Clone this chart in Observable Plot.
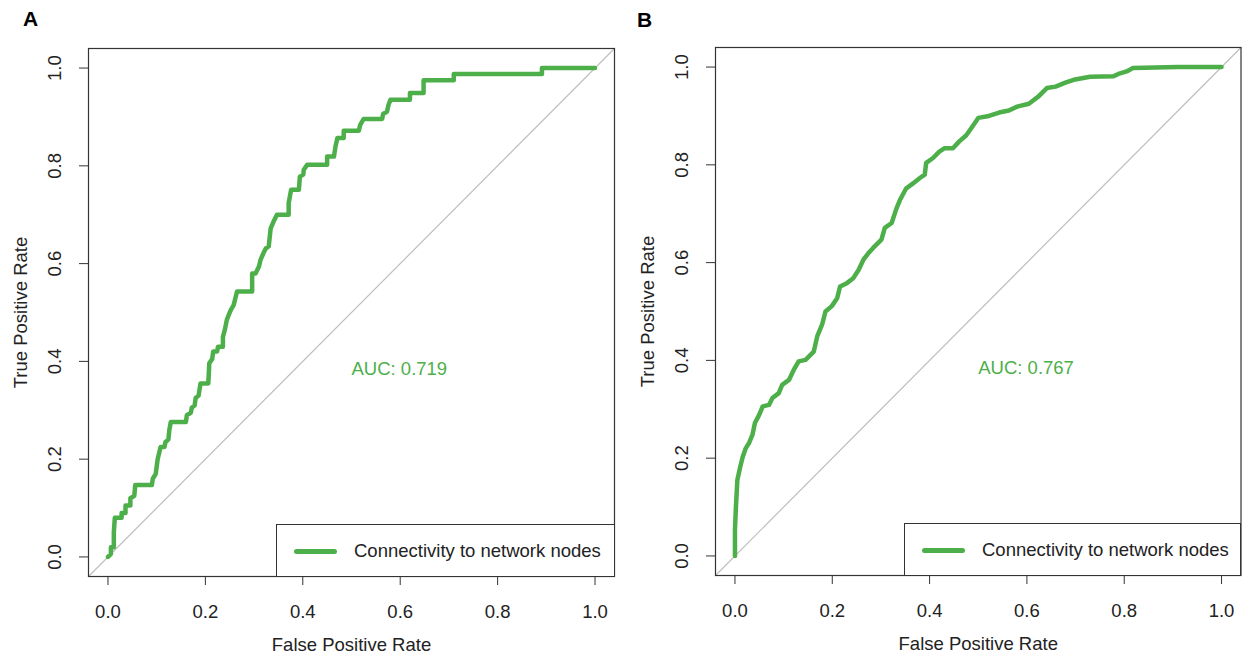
<!DOCTYPE html>
<html>
<head>
<meta charset="utf-8">
<script src="https://cdn.jsdelivr.net/npm/d3@7"></script>
<script src="https://cdn.jsdelivr.net/npm/@observablehq/plot@0.6"></script>
<style>
  html, body { margin: 0; padding: 0; background: #fff; }
  #wrap { position: relative; width: 1244px; height: 656px; overflow: hidden; font-family: "Liberation Sans", Arial, Helvetica, sans-serif; }
  .panel { position: absolute; top: 0; }
  .tag { position: absolute; font-weight: bold; font-size: 21px; color: #000; line-height: 1; }
  .legend { position: absolute; box-sizing: border-box; border: 1px solid #333; background: #fff; height: 53px; }
  .legend .sw { position: absolute; left: 17px; top: 24px; width: 43px; height: 5px; border-radius: 2.5px; background: #4DAF4A; }
  .legend .lt { position: absolute; left: 77px; top: 0; line-height: 51px; font-size: 18.5px; color: #222; white-space: nowrap; }
</style>
</head>
<body>
<div id="wrap"></div>
<script>
// ---------- data ----------
const panelLabels = ["A", "B"];
const xTicks = [0, 0.2, 0.4, 0.6, 0.8, 1.0];
const yTicks = [0, 0.2, 0.4, 0.6, 0.8, 1.0];
const xLabel = "False Positive Rate";
const yLabel = "True Positive Rate";
const legendLabel = "Connectivity to network nodes";
const aucLabels = ["AUC: 0.719", "AUC: 0.767"];
const axisExtent = [-0.04, 1.04];

// Panel A ROC (false positive rate, true positive rate)
const fprA = [0, 0.006, 0.006, 0.012, 0.012, 0.014, 0.028, 0.028, 0.036, 0.036, 0.046, 0.046, 0.054, 0.056, 0.090,
  0.092, 0.098, 0.102, 0.108, 0.116, 0.118, 0.124, 0.126, 0.129, 0.160, 0.162, 0.170, 0.172, 0.178, 0.180, 0.186,
  0.190, 0.206, 0.208, 0.214, 0.216, 0.224, 0.226, 0.236, 0.236, 0.240, 0.244, 0.248, 0.252, 0.258, 0.265, 0.296,
  0.296, 0.303, 0.310, 0.313, 0.319, 0.324, 0.330, 0.334, 0.340, 0.347, 0.371, 0.371, 0.376, 0.392, 0.394, 0.401,
  0.402, 0.409, 0.450, 0.450, 0.464, 0.467, 0.471, 0.484, 0.484, 0.515, 0.518, 0.525, 0.563, 0.565, 0.573, 0.576,
  0.580, 0.620, 0.620, 0.648, 0.648, 0.710, 0.710, 0.891, 0.891, 1.0];
const tprA = [0, 0.006, 0.020, 0.020, 0.050, 0.080, 0.080, 0.090, 0.090, 0.105, 0.105, 0.120, 0.125, 0.147, 0.147,
  0.160, 0.170, 0.200, 0.225, 0.225, 0.235, 0.240, 0.260, 0.276, 0.276, 0.290, 0.295, 0.305, 0.310, 0.325, 0.330,
  0.355, 0.355, 0.396, 0.405, 0.420, 0.420, 0.430, 0.430, 0.450, 0.465, 0.485, 0.495, 0.505, 0.515, 0.543, 0.543,
  0.580, 0.580, 0.594, 0.607, 0.621, 0.631, 0.635, 0.672, 0.686, 0.700, 0.700, 0.724, 0.751, 0.751, 0.778, 0.782,
  0.792, 0.802, 0.802, 0.819, 0.819, 0.839, 0.857, 0.857, 0.872, 0.872, 0.884, 0.896, 0.896, 0.906, 0.911, 0.925,
  0.935, 0.935, 0.949, 0.949, 0.975, 0.975, 0.988, 0.988, 1.0, 1.0];

// Panel B ROC
const fprB = [0, 0, 0.002, 0.005, 0.011, 0.016, 0.022, 0.029, 0.036, 0.041, 0.050, 0.057, 0.070, 0.077, 0.090,
  0.097, 0.111, 0.121, 0.131, 0.145, 0.162, 0.169, 0.179, 0.186, 0.199, 0.210, 0.216, 0.230, 0.243, 0.254, 0.264,
  0.274, 0.284, 0.301, 0.308, 0.322, 0.332, 0.339, 0.352, 0.366, 0.380, 0.390, 0.393, 0.407, 0.420, 0.431, 0.448,
  0.461, 0.475, 0.487, 0.500, 0.522, 0.543, 0.563, 0.580, 0.604, 0.624, 0.641, 0.659, 0.679, 0.696, 0.730, 0.778,
  0.788, 0.805, 0.818, 0.910, 1.0];
const tprB = [0, 0.053, 0.101, 0.156, 0.183, 0.203, 0.220, 0.231, 0.248, 0.272, 0.289, 0.306, 0.309, 0.323, 0.333,
  0.350, 0.360, 0.381, 0.398, 0.401, 0.418, 0.449, 0.473, 0.500, 0.511, 0.527, 0.551, 0.558, 0.568, 0.585, 0.606,
  0.619, 0.630, 0.647, 0.671, 0.681, 0.711, 0.728, 0.752, 0.762, 0.773, 0.780, 0.804, 0.814, 0.827, 0.834, 0.834,
  0.848, 0.860, 0.877, 0.896, 0.900, 0.907, 0.911, 0.919, 0.925, 0.940, 0.957, 0.960, 0.968, 0.974, 0.980, 0.981,
  0.986, 0.991, 0.998, 1.0, 1.0];

// ---------- drawing ----------
const green = "#4DAF4A";
const font = "Liberation Sans, Arial, Helvetica, sans-serif";
const wrap = document.getElementById("wrap");

function panel(fpr, tpr, auc, m) {
  const roc = fpr.map((f, i) => ({fpr: f, tpr: tpr[i]}));
  const diag = axisExtent.map(v => ({fpr: v, tpr: v}));
  return Plot.plot({
    width: 622, height: 656,
    marginLeft: m.left, marginRight: m.right, marginTop: m.top, marginBottom: m.bottom,
    style: {fontFamily: font, fontSize: "18.5px", color: "#222", background: "transparent", overflow: "visible"},
    x: {domain: axisExtent},
    y: {domain: axisExtent},
    marks: [
      Plot.line(diag, {x: "fpr", y: "tpr", stroke: "#BEBEBE", strokeWidth: 1.2}),
      Plot.line(roc, {x: "fpr", y: "tpr", stroke: green, strokeWidth: 4.5, strokeLinejoin: "round", strokeLinecap: "round"}),
      Plot.frame({stroke: "#333", strokeWidth: 1.2}),
      Plot.axisX({ticks: xTicks, tickSize: 9, tickFormat: () => "", label: null, stroke: "#333"}),
      Plot.axisY({ticks: yTicks, tickSize: 9, tickFormat: () => "", label: null, stroke: "#333"}),
      Plot.text(xTicks, {x: d => d, frameAnchor: "bottom", dy: 36, text: d => d.toFixed(1), fill: "#222", fontSize: 18.5, textAnchor: "middle", lineAnchor: "middle"}),
      Plot.text(yTicks, {y: d => d, frameAnchor: "left", dx: -33, rotate: -90, text: d => d.toFixed(1), fill: "#222", fontSize: 18.5, textAnchor: "middle", lineAnchor: "middle"}),
      Plot.text([xLabel], {frameAnchor: "bottom", dy: 69, text: d => d, fill: "#222", fontSize: 18.5, textAnchor: "middle", lineAnchor: "middle"}),
      Plot.text([yLabel], {frameAnchor: "left", dx: -67, rotate: -90, text: d => d, fill: "#222", fontSize: 18.5, textAnchor: "middle", lineAnchor: "middle"}),
      Plot.text([auc], {x: () => 0.5, y: () => 0.4, text: d => d, fill: green, fontSize: 18.5, textAnchor: "start", lineAnchor: "top"})
    ]
  });
}

const layouts = [
  {svgLeft: 0, m: {left: 88, right: 8, top: 48, bottom: 80}, tag: [23, 8], legend: {left: 276, top: 524, width: 339}},
  {svgLeft: 622, m: {left: 93, right: 3.5, top: 47, bottom: 81}, tag: [637, 9], legend: {left: 904, top: 523, width: 337}}
];
const data = [[fprA, tprA], [fprB, tprB]];

layouts.forEach((L, i) => {
  const svg = panel(data[i][0], data[i][1], aucLabels[i], L.m);
  svg.classList.add("panel");
  svg.style.left = L.svgLeft + "px";
  wrap.appendChild(svg);

  const t = document.createElement("div");
  t.className = "tag";
  t.textContent = panelLabels[i];
  t.style.left = L.tag[0] + "px";
  t.style.top = L.tag[1] + "px";
  wrap.appendChild(t);

  const lg = document.createElement("div");
  lg.className = "legend";
  lg.style.left = L.legend.left + "px";
  lg.style.top = L.legend.top + "px";
  lg.style.width = L.legend.width + "px";
  lg.innerHTML = '<div class="sw"></div><div class="lt"></div>';
  lg.querySelector(".lt").textContent = legendLabel;
  wrap.appendChild(lg);
});
</script>
</body>
</html>
